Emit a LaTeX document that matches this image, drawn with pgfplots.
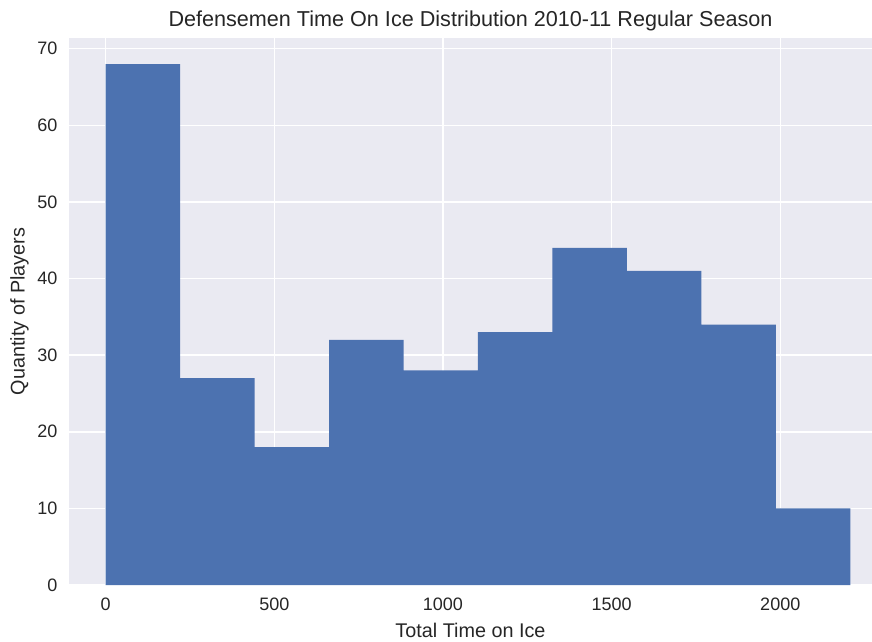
\documentclass[border=0pt]{standalone}
\usepackage{fontspec}
\setmainfont{Liberation Sans}
\usepackage{pgfplots}
\pgfplotsset{compat=1.18}
\definecolor{sbblue}{HTML}{4C72B0}
\definecolor{sbbg}{HTML}{EAEAF2}
\definecolor{sbtext}{HTML}{262626}
\begin{document}
\begin{tikzpicture}
\begin{axis}[
  at={(0,0)}, anchor=south west,
  scale only axis, width=803bp, height=547bp,
  xmin=-108.8, xmax=2272, ymin=0, ymax=71.4,
  axis background/.style={fill=sbbg},
  axis line style={draw=none},
  major tick length=0pt,
  grid=major, major grid style={white, line width=1.5bp},
  axis on top=false,
  xtick={0,500,1000,1500,2000},
  ytick={0,10,20,30,40,50,60,70},
  /pgf/number format/assume math mode=true,
  /pgf/number format/1000 sep={},
  tick label style={font=\fontsize{18bp}{20bp}\selectfont, color=sbtext},
  xticklabel style={yshift=-9bp},
  yticklabel style={xshift=-8bp},
  xlabel={Total Time on Ice},
  ylabel={Quantity of Players},
  label style={font=\fontsize{19.8bp}{22bp}\selectfont, color=sbtext},
  xlabel style={at={(axis description cs:0.5,0)}, anchor=north, yshift=-35bp},
  ylabel style={yshift=2bp},
  title={Defensemen Time On Ice Distribution 2010-11 Regular Season},
  title style={font=\fontsize{21.6bp}{24bp}\selectfont, color=sbtext, yshift=-2bp},
]
\addplot[ybar interval, fill=sbblue, draw=none] coordinates {
  (0,68) (220.8,27) (441.5,18) (662.3,32) (883.0,28) (1103.8,33)
  (1324.6,44) (1545.3,41) (1766.0,34) (1986.8,10) (2207.6,10)
};
\end{axis}
\pgfresetboundingbox
\path (-69bp,-57bp) rectangle (803bp,585bp);
\end{tikzpicture}
\end{document}
